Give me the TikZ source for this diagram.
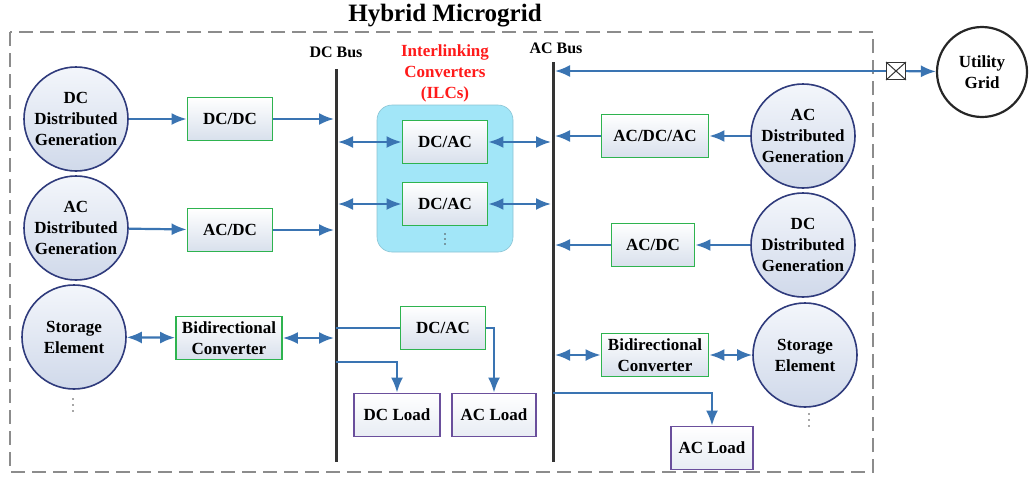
\documentclass[tikz,border=0pt]{standalone}
\usepackage{fontspec}
\setmainfont{Liberation Serif}
\usetikzlibrary{arrows.meta}
\definecolor{arrblue}{HTML}{3A74B2}
\definecolor{convgreen}{HTML}{2EB34F}
\definecolor{circnavy}{HTML}{2F3B7C}
\definecolor{loadpurple}{HTML}{6A4F9C}
\definecolor{ilccyan}{HTML}{A2E6F8}
\definecolor{busgray}{HTML}{333333}
\definecolor{framegray}{HTML}{8C8C8C}
\definecolor{ilcred}{HTML}{FF1A1A}
\definecolor{boxgray}{HTML}{D8E0EC}
\definecolor{circtop}{HTML}{F3F6FB}
\definecolor{circbot}{HTML}{D0D9EA}
\tikzset{
 lbl/.style={font=\fontsize{17}{21}\selectfont\bfseries, align=center, text=black},
 conv/.style={lbl, draw=convgreen, line width=1.8pt, top color=white, bottom color=boxgray, minimum height=43pt, inner sep=1pt},
 loadbox/.style={lbl, draw=loadpurple, line width=1.8pt, top color=white, bottom color=boxgray!60, minimum height=43pt, inner sep=1pt},
 dg/.style={lbl, circle, draw=circnavy, line width=1.6pt, top color=circtop, bottom color=circbot, minimum size=104pt, inner sep=0pt},
 arr/.style={draw=arrblue, line width=2.2pt, -{Latex[length=15pt,width=12pt]}},
 barr/.style={draw=arrblue, line width=2.2pt, {Latex[length=15pt,width=12pt]}-{Latex[length=15pt,width=12pt]}},
 wire/.style={draw=arrblue, line width=2.2pt},
 bus/.style={draw=busgray, line width=3pt},
 buslbl/.style={font=\fontsize{16}{19}\selectfont\bfseries},
 dotfill/.style={fill=black!70},
}
\begin{document}
\begin{tikzpicture}[x=1pt,y=-1pt]
\useasboundingbox (0,0) rectangle (1032,482);
% frame
\draw[framegray, line width=1.3pt, dash pattern=on 14pt off 7pt] (10,32) rectangle (873,472);
\node[font=\fontsize{25}{28}\selectfont\bfseries] (title) at (445,16) {Hybrid Microgrid};
% buses
\coordinate (dctop) at (336,69);
\coordinate (dcbot) at (336,462);
\coordinate (actop) at (553,62);
\coordinate (acbot) at (553,462);
\draw[bus] (dctop) -- (dcbot);
\draw[bus] (actop) -- (acbot);
\node[buslbl] (dclbl) at (336,52) {DC Bus};
\node[buslbl] (aclbl) at (556,48) {AC Bus};
% ILC area
\node[fill=ilccyan, draw=ilccyan!85!black, line width=0.6pt, rounded corners=15pt, minimum width=136pt, minimum height=147pt] (ilc) at (445,178.5) {};
\node[lbl, text=ilcred] (ilclbl) at (445,73) {Interlinking\\Converters\\(ILCs)};
\node[conv, minimum width=85pt] (ilc1) at (445,142) {DC/AC};
\node[conv, minimum width=85pt] (ilc2) at (445,204) {DC/AC};
\foreach \yy in {234,239,244} \fill[dotfill] (445,\yy) circle (0.8pt);
% left side
\node[dg] (dgL1) at (76,119) {DC\\Distributed\\Generation};
\node[dg] (dgL2) at (76,228) {AC\\Distributed\\Generation};
\node[dg] (stL) at (74,337) {Storage\\Element};
\foreach \yy in {399,405,411} \fill[dotfill] (73,\yy) circle (0.8pt);
\node[conv, minimum width=85pt] (dcdc) at (230,119) {DC/DC};
\node[conv, minimum width=85pt] (acdcL) at (230,230) {AC/DC};
\node[conv, minimum width=106pt] (bidL) at (229,338) {Bidirectional\\Converter};
\draw[arr] (dgL1) -- (dcdc);
\draw[arr, shorten >=2pt] (dcdc) -- (dcdc -| dctop);
\draw[arr] (dgL2) -- (acdcL);
\draw[arr, shorten >=2pt] (acdcL) -- (acdcL -| dctop);
\draw[barr] (stL) -- (bidL);
\draw[barr, shorten >=2pt] (bidL) -- (bidL -| dctop);
% ILC connections
\draw[barr, shorten <=2pt] (ilc1 -| dctop) -- (ilc1);
\draw[barr, shorten >=2pt] (ilc1) -- (ilc1 -| actop);
\draw[barr, shorten <=2pt] (ilc2 -| dctop) -- (ilc2);
\draw[barr, shorten >=2pt] (ilc2) -- (ilc2 -| actop);
% middle loads
\node[conv, minimum width=85pt] (dcacB) at (443,328) {DC/AC};
\node[loadbox, minimum width=86pt] (dcload) at (397,415) {DC Load};
\node[loadbox, minimum width=84pt] (acloadM) at (494,415) {AC Load};
\draw[wire] (dcacB -| dctop) -- (dcacB.west);
\draw[arr] (dcacB.east) -| (acloadM.north);
\coordinate (dcl) at (336,362);
\draw[arr] (dcl) -| (dcload.north);
% right side
\node[dg] (dgR1) at (803,136) {AC\\Distributed\\Generation};
\node[dg] (dgR2) at (803,245) {DC\\Distributed\\Generation};
\node[dg] (stR) at (805,355) {Storage\\Element};
\foreach \yy in {414,420,426} \fill[dotfill] (809,\yy) circle (0.8pt);
\node[conv, minimum width=107pt] (acdcac) at (655,136) {AC/DC/AC};
\node[conv, minimum width=83pt] (acdcR) at (653,245) {AC/DC};
\node[conv, minimum width=107pt] (bidR) at (655,355) {Bidirectional\\Converter};
\draw[arr] (dgR1) -- (acdcac);
\draw[arr, shorten >=2pt] (acdcac) -- (acdcac -| actop);
\draw[arr] (dgR2) -- (acdcR);
\draw[arr, shorten >=2pt] (acdcR) -- (acdcR -| actop);
\draw[barr, shorten <=2pt] (bidR -| actop) -- (bidR);
\draw[barr] (bidR) -- (stR);
\node[loadbox, minimum width=82pt] (acloadR) at (712,448) {AC Load};
\coordinate (acl) at (553,393);
\draw[arr] (acl) -| (acloadR.north);
% utility grid
\node[lbl, circle, draw=black!85, line width=2.2pt, fill=white, minimum size=90pt, inner sep=0pt] (grid) at (982,72) {Utility\\Grid};
\node[draw=black!80, line width=1pt, fill=white, minimum width=19pt, minimum height=17pt, inner sep=0pt] (sw) at (896,71) {};
\draw[black!80, line width=1pt] (sw.north west) -- (sw.south east) (sw.north east) -- (sw.south west);
\draw[arr, shorten >=2pt] (sw) -- (sw -| actop);
\draw[arr] (sw) -- (grid);
\end{tikzpicture}
\end{document}
